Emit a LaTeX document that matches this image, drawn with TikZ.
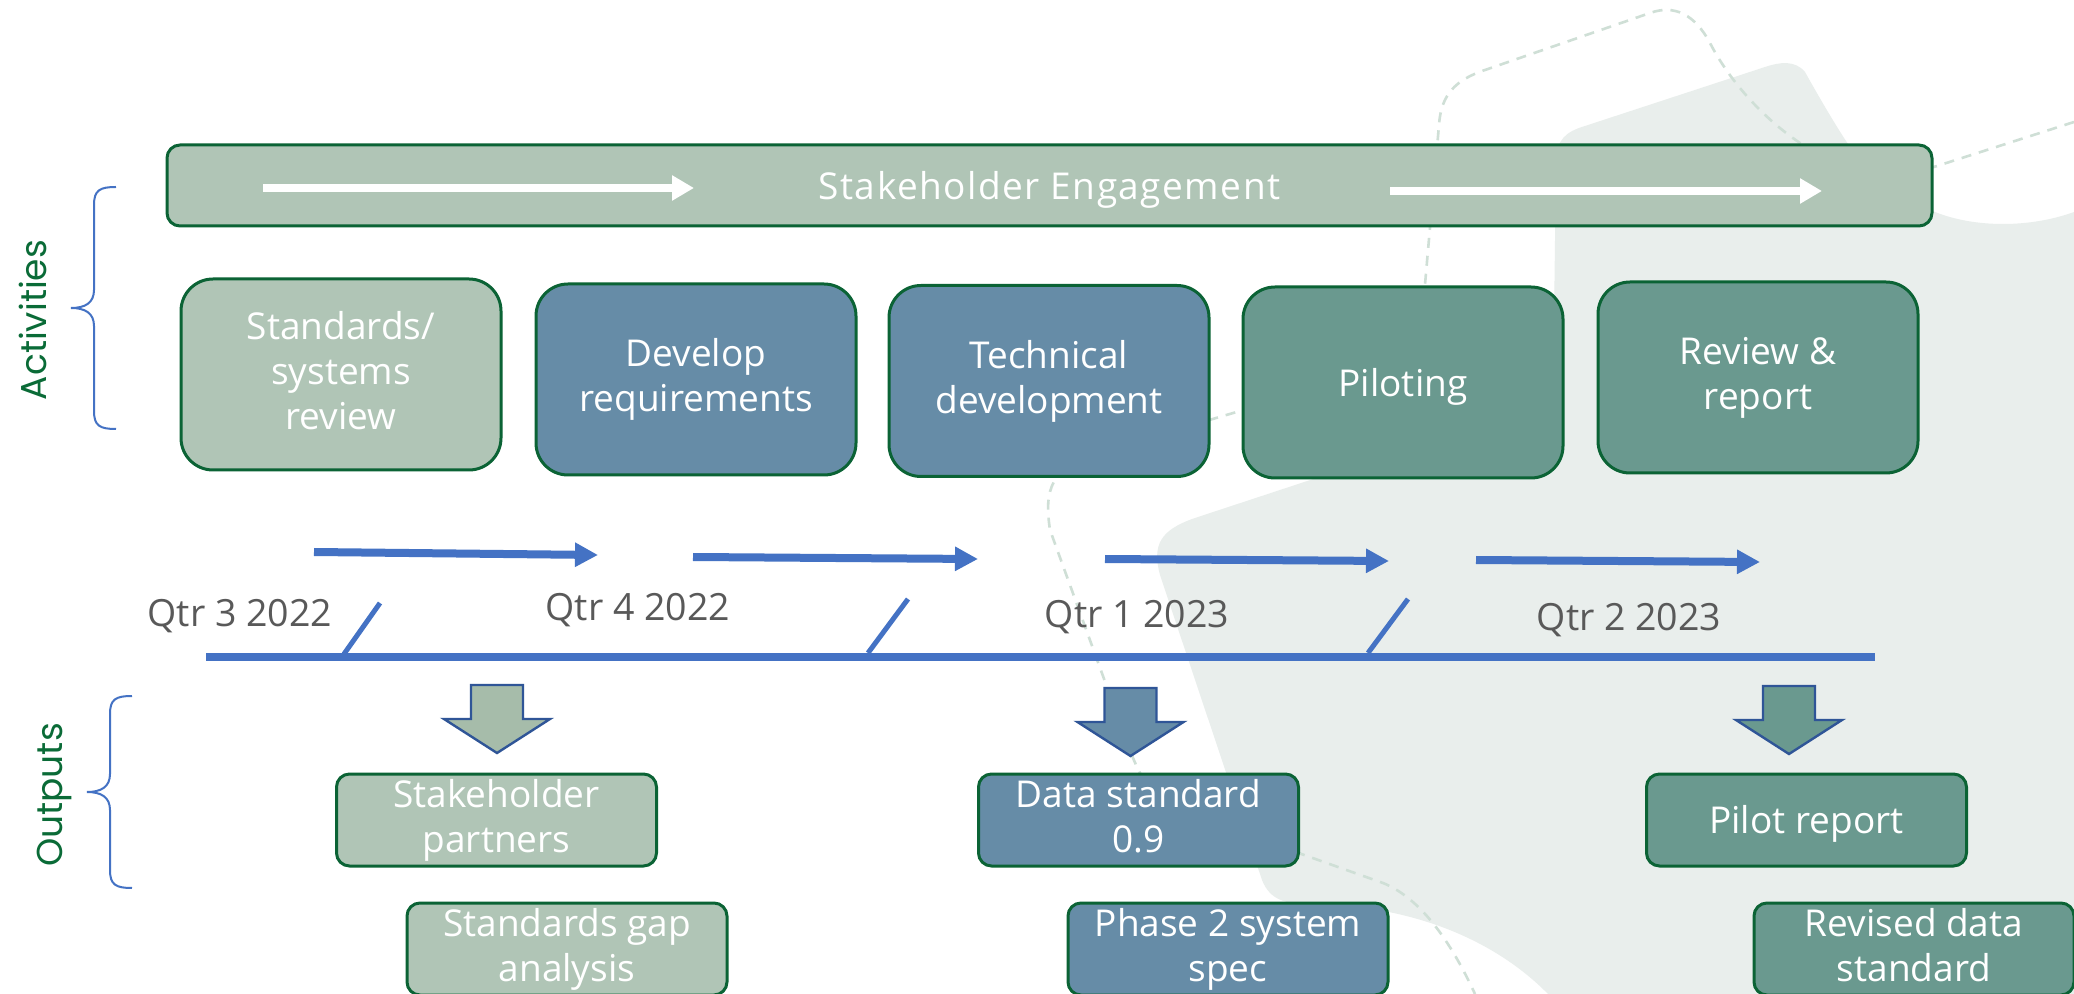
\documentclass[tikz,border=0pt]{standalone}
\usepackage{fontspec}
\setmainfont{Open Sans}
\newfontfamily\headfont{Poppins}
\newfontfamily\spacedfont[LetterSpace=4]{Open Sans}
\usetikzlibrary{arrows.meta}
\definecolor{sage}{HTML}{B0C5B6}
\definecolor{sagedark}{HTML}{A6BCAA}
\definecolor{steel}{HTML}{668CA7}
\definecolor{teal}{HTML}{6A998F}
\definecolor{boxline}{HTML}{0B6335}
\definecolor{timeblue}{HTML}{4472C4}
\definecolor{arrowline}{HTML}{2F5597}
\definecolor{backgray}{HTML}{E9EEEC}
\definecolor{dashgreen}{HTML}{CFDFD6}
\definecolor{qtrgray}{HTML}{595959}
\definecolor{labelgreen}{HTML}{0A6B37}
\newcommand{\boxfont}{\fontsize{18.5}{22.5}\selectfont}
\newcommand{\boxstrut}{\rule[-4.25pt]{0pt}{22.5pt}}
% brace: x of the ends, y top, y bottom
\newcommand{\sidebrace}[3]{\draw[bracket] (#1,#2) .. controls ({#1-16},#2) and ({#1-22},{#2+3}) .. ({#1-22},{#2+18}) -- ({#1-22},{(#2+#3)/2-18}) .. controls ({#1-22},{(#2+#3)/2-5}) and ({#1-31},{(#2+#3)/2}) .. ({#1-45},{(#2+#3)/2}) .. controls ({#1-31},{(#2+#3)/2}) and ({#1-22},{(#2+#3)/2+5}) .. ({#1-22},{(#2+#3)/2+18}) -- ({#1-22},{#3-18}) .. controls ({#1-22},{#3-3}) and ({#1-16},#3) .. (#1,#3);}
% block arrow: tip x, top y, fill
\newcommand{\outarrow}[3]{\draw[blockarrow, fill=#3] ({#1-26},#2) -- ({#1+26},#2) -- ({#1+26},{#2+34}) -- ({#1+53},{#2+34}) -- (#1,{#2+68}) -- ({#1-53},{#2+34}) -- ({#1-26},{#2+34}) -- cycle;}
\tikzset{
	activity/.style={draw=boxline, line width=1.5pt, rounded corners=16pt, minimum width=160pt, minimum height=95.5pt, inner sep=0pt, align=center, text=white, font=\boxfont, execute at begin node=\boxstrut, execute at end node=\boxstrut},
	output/.style={activity, rounded corners=6.5pt, minimum height=46pt},
	bracket/.style={draw=timeblue, line width=1pt},
	blockarrow/.style={draw=arrowline, line width=1.2pt, line join=miter},
	qarrow/.style={draw=timeblue, line width=4pt, -{Triangle[length=11.5pt,width=11.5pt]}},
	whitearrow/.style={draw=white, line width=4pt, -{Triangle[length=11pt,width=12pt]}},
	tick/.style={draw=timeblue, line width=2.5pt},
	qtrlabel/.style={text=qtrgray, font=\fontsize{18.75}{22}\selectfont, inner sep=0pt, anchor=base},
	sidelabel/.style={text=labelgreen, font=\headfont\fontsize{18}{22}\selectfont, rotate=90},
	dashline/.style={draw=dashgreen, line width=1.3pt, dash pattern=on 5pt off 4pt}
}
\begin{document}
\begin{tikzpicture}[x=0.5pt,y=-0.5pt]
			%%%%% START %%%%%
			\clip (0,0) rectangle (2074,994);
			\fill[white] (0,0) rectangle (2074,994);
			
			% background shape
			\fill[backgray] (2074,212) .. controls (2030,228) and (1975,228) .. (1935,212) .. controls (1895,195) and (1865,170) .. (1850,147) .. controls (1835,125) and (1815,90) .. (1805,72) .. controls (1795,60) and (1780,62) .. (1765,67) -- (1585,126) .. controls (1565,132) and (1557,140) .. (1556,160) -- (1553,400) -- (1195,518) .. controls (1160,530) and (1152,545) .. (1160,575) -- (1262,880) .. controls (1270,900) and (1285,904) .. (1310,904) .. controls (1420,905) and (1500,945) .. (1548,994) -- (2074,994) -- cycle;
			
			\draw[dashline] (2074,122) -- (1937,166) .. controls (1880,184) and (1840,170) .. (1800,143) .. controls (1760,116) and (1728,78) .. (1710,43) .. controls (1695,15) and (1675,4) .. (1650,13) -- (1485,70) .. controls (1455,80) and (1441,95) .. (1439,125) -- (1421,330) .. controls (1418,360) and (1400,365) .. (1380,370) -- (1100,452) .. controls (1050,467) and (1044,490) .. (1050,530) -- (1128,745) .. controls (1145,792) and (1160,805) .. (1200,818) -- (1383,883) .. controls (1420,898) and (1450,940) .. (1475,994);
			
			% activities
			\node[activity, fill=sage, rounded corners=6.5pt, minimum width=882.5pt, minimum height=40.5pt, font=\spacedfont\boxfont] (engage) at (1049.5,185.5) {Stakeholder Engagement};
			\draw[whitearrow] (263,188) -- (694,188);
			\draw[whitearrow] (1390,191) -- (1822,191);
			
			\node[activity, fill=sage] (review) at (341,374.5) {Standards/\\systems\\review};
			\node[activity, fill=steel] (require) at (696,379.5) {Develop\\requirements};
			\node[activity, fill=steel] (techdev) at (1049,381) {Technical\\development};
			\node[activity, fill=teal] (pilot) at (1403,382.5) {Piloting};
			\node[activity, fill=teal] (report) at (1758,377.5) {Review \&\\report};
			
			% timeline
			\draw[qarrow] (314,552) -- (598,555);
			\draw[qarrow] (693,557) -- (978,559);
			\draw[qarrow] (1105,559) -- (1389,561);
			\draw[qarrow] (1476,560) -- (1760,562);
			
			\node[qtrlabel] (q3) at (240,627) {Qtr 3 2022};
			\node[qtrlabel] (q4) at (638,621) {Qtr 4 2022};
			\node[qtrlabel] (q1) at (1137,628) {Qtr 1 2023};
			\node[qtrlabel] (q2) at (1629,631) {Qtr 2 2023};
			
			\draw[tick] (344,654) -- (380,603);
			\draw[tick] (868,653) -- (908,599);
			\draw[tick] (1368,653) -- (1408,599);
			\draw[timeblue, line width=4pt] (206,657) -- (1875,657);
			
			% outputs
			\outarrow{497}{685}{sagedark}
			\outarrow{1130.5}{688}{steel}
			\outarrow{1789}{686}{teal}
			
			\node[output, fill=sage] (partners) at (496.5,820) {Stakeholder\\partners};
			\node[output, fill=sage] (gap) at (567,949) {Standards gap\\analysis};
			\node[output, fill=steel] (datastd) at (1138.5,820) {Data standard\\0.9};
			\node[output, fill=steel] (spec) at (1228,949) {Phase 2 system\\spec};
			\node[output, fill=teal] (pilotrep) at (1806.5,820) {Pilot report};
			\node[output, fill=teal] (revised) at (1914,949) {Revised data\\standard};
			
			% side labels
			\sidebrace{116}{187}{429}
			\sidebrace{132}{696}{888}
			\node[sidelabel] (activities) at (33,320) {Activities};
			\node[sidelabel] (outputs) at (54,795) {Outputs};
			%%%%% END %%%%%
\end{tikzpicture}
\end{document}
